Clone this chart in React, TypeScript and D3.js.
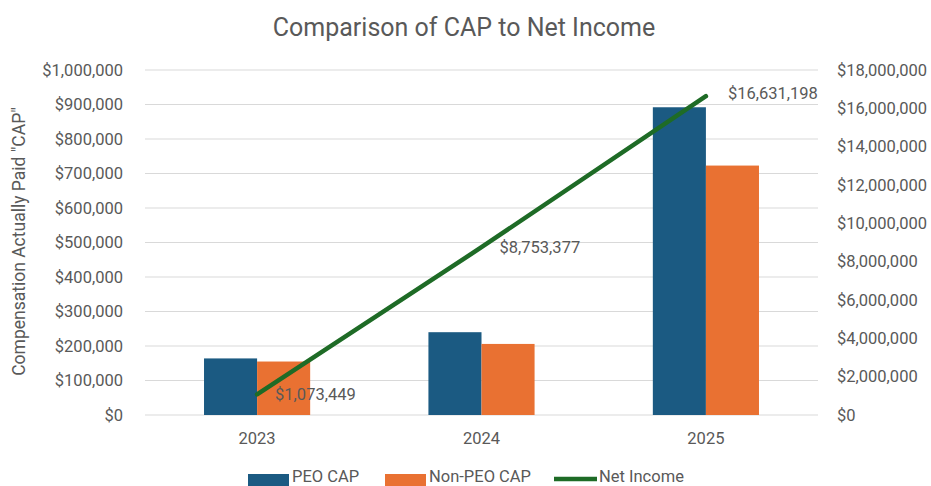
import * as d3 from "d3";

const years = ["2023", "2024", "2025"];
const peoCap = [164000, 240000, 892000];
const nonPeoCap = [155000, 206000, 723000];
const netIncome = [1073449, 8753377, 16631198];
const leftTicks = [0, 100000, 200000, 300000, 400000, 500000, 600000, 700000, 800000, 900000, 1000000];
const rightTicks = [0, 2000000, 4000000, 6000000, 8000000, 10000000, 12000000, 14000000, 16000000, 18000000];

const W = 931;
const H = 486;
const margin = {top: 70, right: 113, bottom: 71, left: 145};
const textColor = "#595959";
const font = "Roboto, 'Open Sans', sans-serif";
const fs = 16.5;

const App = () => {
    const width = W - margin.left - margin.right;
    const height = H - margin.top - margin.bottom;

    const x = d3.scaleBand().domain(years).range([0, width]).paddingInner(0.527).paddingOuter(0.263);
    const xInner = d3.scaleBand().domain(["peo", "non"]).range([0, x.bandwidth()]);
    const yLeft = d3.scaleLinear().domain([0, 1000000]).range([height, 0]);
    const yRight = d3.scaleLinear().domain([0, 18000000]).range([height, 0]);
    const money = d3.format("$,");

    const cx = (y: string) => (x(y) || 0) + x.bandwidth() / 2;
    const line = d3.line<number>()
        .x((_, i) => cx(years[i]))
        .y((d) => yRight(d));

    return (
        <svg width={W} height={H} style={{position: "absolute", left: 0, top: 0, background: "#fff"}} fontFamily={font}>
            <text x={464} y={36} textAnchor="middle" fontSize={25} fill={textColor}>
                Comparison of CAP to Net Income
            </text>
            <text transform={`translate(25,${margin.top + height / 2 - 1}) rotate(-90)`} textAnchor="middle"
                  fontSize={17.5} fill={textColor}>
                Compensation Actually Paid "CAP"
            </text>
            <g transform={`translate(${margin.left},${margin.top})`}>
                {/* gridlines */}
                {leftTicks.map((t) => (
                    <line key={t} x1={0} x2={width} y1={yLeft(t)} y2={yLeft(t)} stroke="#d9d9d9" strokeWidth={1.2}/>
                ))}
                {/* left axis */}
                {leftTicks.map((t) => (
                    <text key={t} x={-22} y={yLeft(t)} dy="0.35em" textAnchor="end" fontSize={fs} fill={textColor}>
                        {money(t)}
                    </text>
                ))}
                {/* right axis */}
                {rightTicks.map((t) => (
                    <text key={t} x={width + 19} y={yRight(t)} dy="0.35em" textAnchor="start" fontSize={fs}
                          fill={textColor}>
                        {money(t)}
                    </text>
                ))}
                {/* bars */}
                {years.map((yr, i) => (
                    <g key={yr} transform={`translate(${x(yr)},0)`}>
                        <rect x={xInner("peo")} width={xInner.bandwidth()} y={yLeft(peoCap[i])}
                              height={height - yLeft(peoCap[i])} fill="#1B5A82"/>
                        <rect x={xInner("non")} width={xInner.bandwidth()} y={yLeft(nonPeoCap[i])}
                              height={height - yLeft(nonPeoCap[i])} fill="#E97132"/>
                        <text x={x.bandwidth() / 2} y={height + 23} dy="0.35em" textAnchor="middle" fontSize={fs}
                              fill={textColor}>
                            {yr}
                        </text>
                    </g>
                ))}
                {/* net income line */}
                <path d={line(netIncome) || ""} fill="none" stroke="#1E6B26" strokeWidth={4.5} strokeLinecap="round"/>
                {netIncome.map((v, i) => (
                    <text key={i} x={cx(years[i]) + (i === 2 ? 22 : 18)} y={yRight(v) + (i === 2 ? -3 : 0)} dy="0.35em"
                          fontSize={fs} fill={textColor}>
                        {money(v)}
                    </text>
                ))}
            </g>
            {/* legend */}
            <g fontSize={fs} fill={textColor}>
                <rect x={248} y={474} width={41} height={12} fill="#1B5A82"/>
                <text x={292} y={476} dy="0.35em">PEO CAP</text>
                <rect x={385} y={474} width={41} height={12} fill="#E97132"/>
                <text x={429} y={476} dy="0.35em">Non-PEO CAP</text>
                <line x1={554} x2={597} y1={479} y2={479} stroke="#1E6B26" strokeWidth={4.5}/>
                <text x={599} y={476} dy="0.35em">Net Income</text>
            </g>
        </svg>
    );
};

export default App;
